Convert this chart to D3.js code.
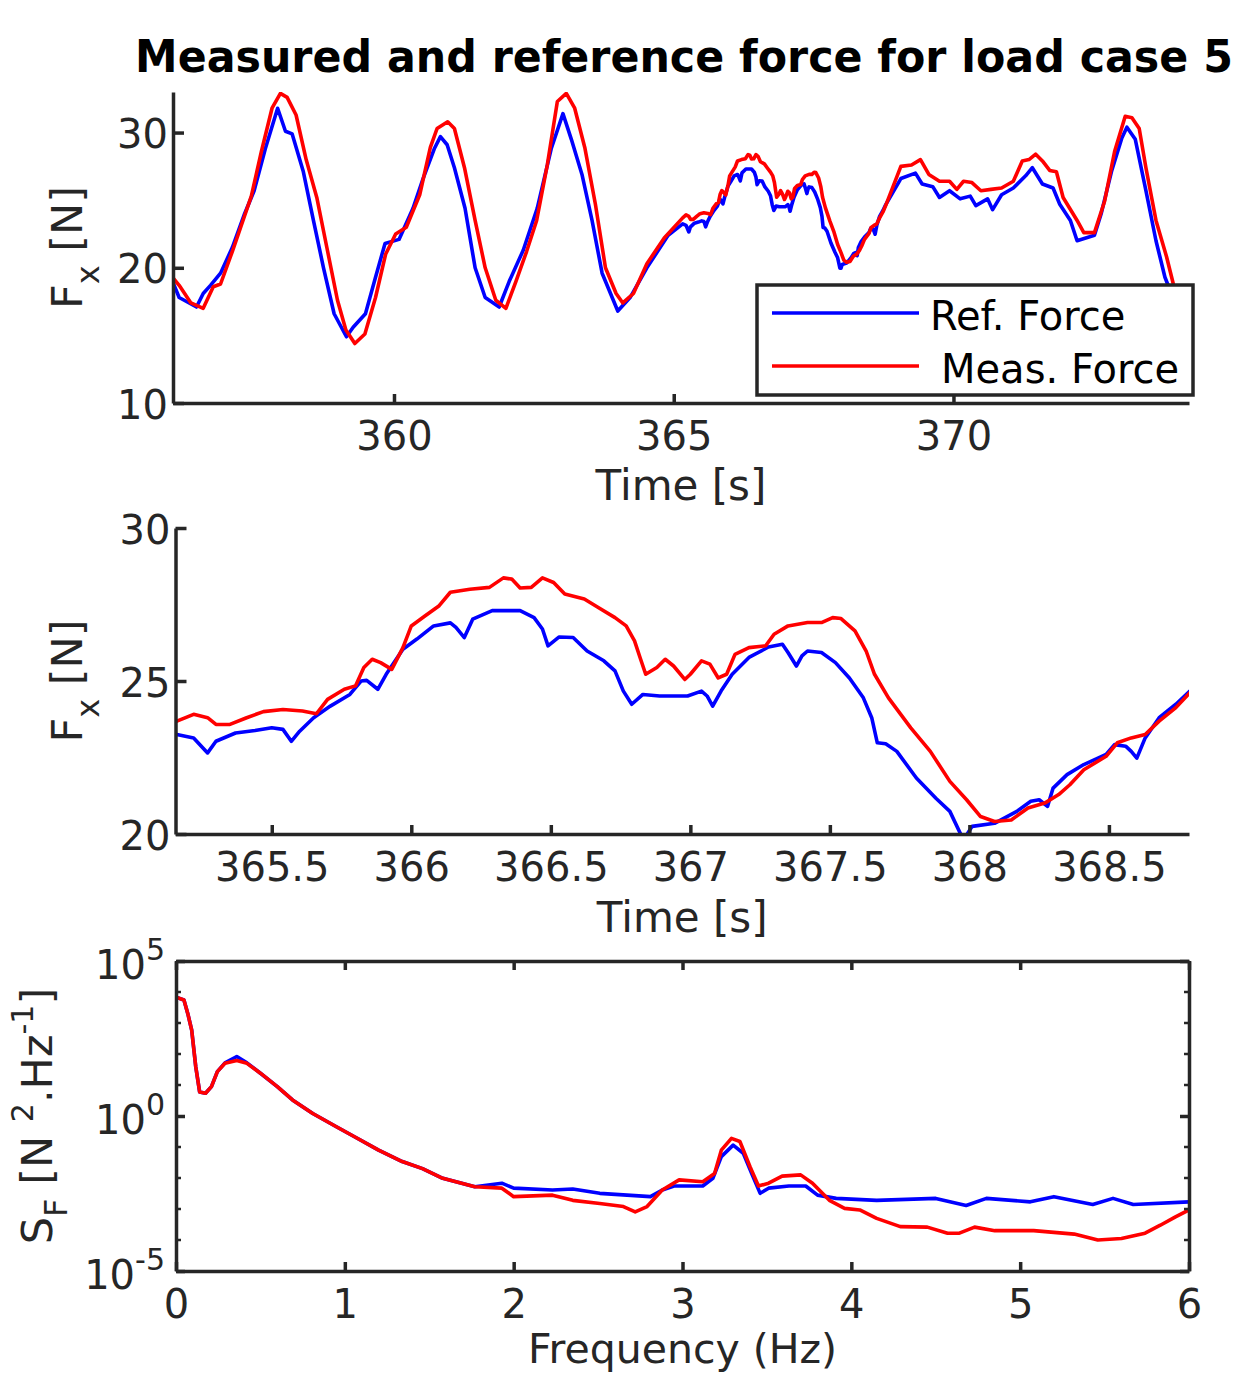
<!DOCTYPE html>
<html>
<head>
<meta charset="utf-8">
<script src="https://cdn.jsdelivr.net/npm/d3@7"></script>
<style>
  body { margin: 0; background: #fff; }
  svg { display: block; font-family: "DejaVu Sans", sans-serif; }
</style>
</head>
<body>
<svg id="chart" width="1242" height="1376"></svg>
<script>
// reference (blue) and measured (red) force, time in s, force in N
const refTime = [356.04, 356.16, 356.47, 356.59, 356.72, 356.90, 357.11, 357.33, 357.50, 357.70, 357.92, 358.06, 358.18, 358.38, 358.56, 358.74, 358.93, 359.15, 359.27, 359.49, 359.67, 359.84, 360.09, 360.34, 360.52, 360.72, 360.83, 360.95, 361.08, 361.27, 361.45, 361.63, 361.88, 362.06, 362.31, 362.56, 362.81, 363.02, 363.17, 363.36, 363.54, 363.72, 364.00, 364.22, 364.52, 364.90,
  365.16, 365.22, 365.27, 365.30, 365.37, 365.44, 365.50, 365.54, 365.57, 365.60, 365.65, 365.71, 365.78, 365.82, 365.84, 365.88, 365.91, 365.97, 366.02, 366.08, 366.14, 366.16, 366.19, 366.22, 366.29, 366.39, 366.44, 366.47, 366.49, 366.53, 366.58, 366.63, 366.69, 366.73, 366.76, 366.79, 366.83, 366.89, 366.99, 367.04, 367.06, 367.08, 367.11, 367.15, 367.21, 367.28, 367.33, 367.35, 367.38, 367.40, 367.42, 367.47, 367.52, 367.57, 367.62, 367.65, 367.67, 367.70, 367.74, 367.81, 367.88, 367.93, 367.97, 367.99, 368.01, 368.09, 368.17, 368.22, 368.25, 368.28, 368.30, 368.35, 368.41, 368.49, 368.52, 368.56, 368.58, 368.60, 368.63, 368.68, 368.74, 368.79,
  369.06, 369.32, 369.44, 369.63, 369.75, 369.93, 370.12, 370.30, 370.40, 370.61, 370.70, 370.86, 371.07, 371.29, 371.41, 371.59, 371.78, 371.90, 372.09, 372.21, 372.52, 372.64, 372.83, 373.01, 373.10, 373.25, 373.44, 373.62, 373.78, 374.00, 374.20]
const refForce = [19.0, 17.8, 17.1, 18.1, 18.7, 19.6, 21.5, 24.0, 25.7, 28.8, 31.8, 30.1, 29.9, 27.1, 23.5, 20.0, 16.6, 14.9, 15.6, 16.6, 19.3, 21.8, 22.1, 24.4, 26.6, 28.8, 29.7, 29.1, 27.4, 24.4, 20.0, 17.8, 17.1, 19.0, 21.3, 24.4, 28.8, 31.4, 29.5, 26.9, 23.5, 19.6, 16.8, 17.8, 20.0, 22.4,
  23.25, 23.14, 22.65, 23.03, 23.30, 23.38, 23.47, 23.42, 23.03, 23.36, 23.80, 24.18, 24.56, 25.00, 25.02, 24.73, 25.22, 26.04, 26.37, 26.80, 26.90, 26.75, 26.42, 27.02, 27.30, 27.30, 27.07, 26.70, 26.15, 26.44, 26.42, 25.98, 25.66, 25.33, 24.67, 24.24, 24.56, 24.51, 24.51, 24.67, 24.51, 24.18, 24.67, 25.22, 25.77, 26.11, 26.20, 25.93, 25.49, 25.82, 25.98, 25.93, 25.60, 25.10, 24.45, 23.80, 22.98, 22.95, 22.70, 21.83, 21.17, 20.74, 19.97, 19.97, 20.25, 20.35, 20.74, 21.07, 21.12, 20.90, 21.50, 21.94, 22.27, 22.60, 22.92, 22.87, 22.70, 22.48, 23.14, 23.80, 24.24, 24.67,
  26.6, 27.0, 26.2, 26.0, 25.2, 25.7, 25.1, 25.3, 24.6, 25.1, 24.3, 25.4, 25.9, 26.8, 27.4, 26.2, 25.9, 24.7, 23.5, 22.0, 22.4, 24.0, 27.2, 29.6, 30.4, 29.5, 25.7, 22.0, 19.3, 17.0, 16.0]

const measTime = [356.04, 356.16, 356.37, 356.59, 356.77, 356.90, 357.11, 357.26, 357.45, 357.63, 357.82, 357.97, 358.09, 358.25, 358.43, 358.62, 358.80, 358.99, 359.14, 359.30, 359.48, 359.67, 359.85, 360.03, 360.22, 360.46, 360.65, 360.77, 360.96, 361.08, 361.26, 361.45, 361.63, 361.82, 362.00, 362.18, 362.37, 362.55, 362.74, 362.92, 363.08, 363.23, 363.41, 363.60, 363.78, 363.97, 364.09, 364.28, 364.52, 364.83,
  365.16, 365.22, 365.27, 365.30, 365.35, 365.41, 365.47, 365.54, 365.61, 365.66, 365.70, 365.76, 365.80, 365.83, 365.86, 365.89, 365.93, 365.97, 366.00, 366.05, 366.10, 366.14, 366.21, 366.28, 366.33, 366.36, 366.39, 366.43, 366.47, 366.51, 366.55, 366.62, 366.67, 366.73, 366.77, 366.80, 366.82, 366.84, 366.88, 366.91, 366.94, 366.98, 367.00, 367.04, 367.07, 367.10, 367.13, 367.16, 367.21, 367.27, 367.30, 367.35, 367.42, 367.47, 367.51, 367.54, 367.59, 367.63, 367.66, 367.71, 367.79, 367.86, 367.93, 367.99, 368.04, 368.09, 368.15, 368.21, 368.27, 368.32, 368.36, 368.41, 368.49, 368.53, 368.58, 368.63, 368.68, 368.74, 368.79,
  369.06, 369.25, 369.41, 369.56, 369.75, 369.93, 370.06, 370.18, 370.33, 370.49, 370.67, 370.86, 371.07, 371.23, 371.35, 371.47, 371.59, 371.72, 371.84, 371.96, 372.21, 372.33, 372.52, 372.70, 372.88, 373.07, 373.19, 373.32, 373.44, 373.62, 373.81, 373.93, 374.20]
const measForce = [19.3, 18.7, 17.4, 17.0, 18.6, 18.8, 21.2, 23.0, 25.3, 28.6, 31.8, 32.9, 32.6, 31.3, 28.0, 25.2, 21.5, 17.6, 15.4, 14.4, 15.1, 17.8, 21.0, 22.5, 23.0, 25.4, 28.9, 30.3, 30.8, 30.3, 27.4, 23.5, 20.0, 17.6, 17.0, 19.0, 21.2, 23.5, 27.6, 32.3, 32.9, 31.8, 28.9, 24.7, 20.0, 18.1, 17.4, 18.1, 20.3, 22.2,
  23.69, 23.91, 23.80, 23.58, 23.58, 23.80, 24.00, 24.07, 24.02, 23.93, 24.40, 24.73, 24.84, 25.44, 25.71, 25.60, 25.38, 26.09, 26.80, 27.13, 27.46, 27.90, 28.00, 28.06, 28.37, 28.33, 28.04, 28.06, 28.37, 28.22, 27.84, 27.68, 27.40, 27.07, 26.80, 26.31, 25.76, 25.22, 25.44, 25.71, 25.49, 25.05, 25.22, 25.66, 25.55, 25.10, 25.22, 25.87, 26.09, 26.15, 26.53, 26.80, 26.91, 26.91, 27.07, 27.04, 26.64, 25.98, 25.22, 24.45, 23.47, 22.70, 21.72, 21.12, 20.57, 20.41, 20.46, 20.85, 21.01, 21.29, 21.61, 22.10, 22.54, 22.98, 23.14, 23.25, 23.69, 24.13, 24.62,
  27.5, 27.6, 28.0, 26.9, 26.4, 26.4, 25.8, 26.4, 26.3, 25.7, 25.8, 25.9, 26.4, 27.9, 28.0, 28.4, 27.9, 27.2, 27.1, 25.2, 23.5, 22.6, 22.6, 24.9, 28.6, 31.2, 31.1, 30.3, 27.4, 23.5, 20.8, 18.8, 16.5]

// power spectral density, frequency in Hz, S_F in N^2/Hz
const refFreq = [0, 0.047, 0.07, 0.093, 0.117, 0.14, 0.175, 0.21, 0.245, 0.29, 0.36, 0.42, 0.50, 0.60, 0.69, 0.81, 0.95, 1.06, 1.20, 1.34, 1.46, 1.58, 1.77, 1.93, 2.00, 2.23, 2.35, 2.51, 2.81, 2.88, 2.95, 3.12, 3.18, 3.23, 3.30, 3.36, 3.41, 3.46, 3.51, 3.63, 3.73, 3.80, 3.91, 4.15, 4.50, 4.68, 4.80, 5.06, 5.20, 5.43, 5.55, 5.67, 6.00]
const refPsd = [6800, 5500, 2000, 590, 39, 6.0, 5.4, 8.9, 27, 52, 83, 52, 24, 8.9, 3.3, 1.2, 0.45, 0.21, 0.079, 0.034, 0.020, 0.0098, 0.0052, 0.0068, 0.0047, 0.0041, 0.0044, 0.0032, 0.0025, 0.0041, 0.0055, 0.0055, 0.0098, 0.049, 0.115, 0.063, 0.014, 0.0032, 0.0047, 0.0055, 0.0055, 0.0028, 0.0022, 0.0019, 0.0022, 0.0013, 0.0022, 0.0017, 0.0025, 0.0014, 0.0022, 0.0014, 0.0017]
const measFreq = [0, 0.047, 0.07, 0.093, 0.117, 0.14, 0.175, 0.21, 0.245, 0.29, 0.36, 0.42, 0.50, 0.60, 0.69, 0.81, 0.95, 1.06, 1.20, 1.34, 1.46, 1.58, 1.77, 1.93, 2.00, 2.23, 2.35, 2.51, 2.65, 2.72, 2.79, 2.88, 2.98, 3.12, 3.19, 3.23, 3.29, 3.34, 3.40, 3.45, 3.51, 3.59, 3.70, 3.77, 3.87, 3.96, 4.05, 4.15, 4.29, 4.45, 4.57, 4.64, 4.73, 4.85, 5.08, 5.32, 5.46, 5.60, 5.74, 5.83, 5.92, 6.00]
const measPsd = [6800, 5500, 2000, 590, 39, 6.0, 5.4, 8.9, 27, 50, 62, 50, 24, 8.9, 3.3, 1.2, 0.45, 0.21, 0.079, 0.034, 0.020, 0.0098, 0.0052, 0.0047, 0.0025, 0.0028, 0.0019, 0.0015, 0.0012, 0.00081, 0.0012, 0.0041, 0.0087, 0.0076, 0.014, 0.079, 0.19, 0.15, 0.023, 0.0055, 0.0068, 0.0115, 0.0126, 0.0068, 0.0019, 0.00105, 0.00093, 0.0005, 0.00027, 0.00026, 0.000166, 0.000166, 0.00026, 0.0002, 0.0002, 0.000155, 0.0001, 0.000112, 0.000166, 0.0003, 0.00056, 0.00093]

// ticks
const timeTicks1 = [360, 365, 370]
const forceTicks1 = [10, 20, 30]
const timeTicks2 = [365.5, 366, 366.5, 367, 367.5, 368, 368.5]
const forceTicks2 = [20, 25, 30]
const freqTicks = [0, 1, 2, 3, 4, 5, 6]
const psdTicks = [1e-5, 1, 1e5]
const psdMinorTicks = [1e-4, 1e-3, 1e-2, 1e-1, 1e1, 1e2, 1e3, 1e4]

const seriesNames = ['Ref. Force', 'Meas. Force']
const seriesColors = ['#0000ff', '#ff0000']

const svg = d3.select('#chart')
const axisColor = '#262626'
const axisWidth = 3.5
const lineWidth = 3.6

const styleAxis = function (g) {
  g.attr('font-family', null).attr('font-size', 40)
  g.select('.domain').attr('stroke', axisColor).attr('stroke-width', axisWidth)
  g.selectAll('.tick line').attr('stroke', axisColor).attr('stroke-width', axisWidth)
  g.selectAll('.tick text').attr('fill', axisColor)
}

const addClip = function (id, box) {
  svg.append('clipPath').attr('id', id)
    .append('rect')
    .attr('x', box.left).attr('y', box.top)
    .attr('width', box.right - box.left).attr('height', box.bottom - box.top)
}

const drawSeries = function (x, y, clipId, xs, ys, color) {
  const line = d3.line().x(d => x(d[0])).y(d => y(d[1]))
  svg.append('path')
    .datum(d3.zip(xs, ys))
    .attr('clip-path', `url(#${clipId})`)
    .attr('fill', 'none')
    .attr('stroke', color)
    .attr('stroke-width', lineWidth)
    .attr('stroke-linejoin', 'round')
    .attr('d', line)
}

const xLabel = function (box, baseline, text) {
  svg.append('text')
    .attr('x', (box.left + box.right) / 2).attr('y', baseline)
    .attr('text-anchor', 'middle').attr('font-size', 42).attr('fill', axisColor)
    .text(text)
}

// time panel, box off: only left and bottom axes
const drawTimePanel = function (box, xDomain, yDomain, xTicks, yTicks, clipId) {
  const x = d3.scaleLinear(xDomain, [box.left, box.right])
  const y = d3.scaleLinear(yDomain, [box.bottom, box.top])
  addClip(clipId, box)
  drawSeries(x, y, clipId, refTime, refForce, seriesColors[0])
  drawSeries(x, y, clipId, measTime, measForce, seriesColors[1])

  svg.append('g').attr('transform', `translate(0,${box.bottom})`)
    .call(d3.axisBottom(x).tickValues(xTicks).tickFormat(d => d).tickSize(-9).tickSizeOuter(0))
    .call(styleAxis)
    .call(g => g.selectAll('.tick text').attr('y', 19).attr('dy', '0.71em'))
  svg.append('g').attr('transform', `translate(${box.left},0)`)
    .call(d3.axisLeft(y).tickValues(yTicks).tickFormat(d => d).tickSize(-11).tickSizeOuter(0).tickPadding(5))
    .call(styleAxis)
    .call(g => g.selectAll('.tick text').attr('dy', '0.38em'))
  return { x, y }
}

const forceLabel = function (cx, cy) {
  const t = svg.append('text')
    .attr('transform', `translate(${cx},${cy}) rotate(-90)`)
    .attr('text-anchor', 'middle').attr('font-size', 43).attr('fill', axisColor)
    .style('white-space', 'pre')
  t.append('tspan').text('F')
  t.append('tspan').attr('font-size', 32).attr('dy', 17).text('x')
  t.append('tspan').attr('dy', -17).text(' [N]')
}

// title, squeezed horizontally to the reference width
const titleG = svg.append('g')
const title = titleG.append('text')
  .attr('x', 0).attr('y', 0)
  .attr('text-anchor', 'middle')
  .attr('font-size', 44).attr('font-weight', 'bold').attr('fill', '#000')
  .text('Measured and reference force for load case 5')
const titleScale = Math.min(1, 1098 / title.node().getComputedTextLength())
titleG.attr('transform', `translate(684,72) scale(${titleScale},1)`)

// panel 1
const box1 = { left: 173, right: 1189, top: 92, bottom: 403 }
drawTimePanel(box1, [356.05, 374.21], [10, 33], timeTicks1, forceTicks1, 'clip1')
xLabel(box1, 500, 'Time [s]')
forceLabel(82, 247.5)

// legend
const legend = svg.append('g')
legend.append('rect')
  .attr('x', 757).attr('y', 285).attr('width', 436).attr('height', 110)
  .attr('fill', '#fff').attr('stroke', axisColor).attr('stroke-width', axisWidth)
seriesNames.forEach((name, i) => {
  const ly = 313 + i * 53
  legend.append('line')
    .attr('x1', 772).attr('x2', 919).attr('y1', ly).attr('y2', ly)
    .attr('stroke', seriesColors[i]).attr('stroke-width', lineWidth)
  legend.append('text')
    .attr('x', 930 + i * 11).attr('y', ly + 17)
    .attr('font-size', 40).attr('fill', '#000')
    .text(name)
})

// panel 2 (zoom)
const box2 = { left: 175.5, right: 1189, top: 528, bottom: 834 }
drawTimePanel(box2, [365.155, 368.787], [20, 30], timeTicks2, forceTicks2, 'clip2')
xLabel(box2, 932, 'Time [s]')
forceLabel(82, 681)

// panel 3 (PSD, log y, box on)
const box3 = { left: 176, right: 1189, top: 961, bottom: 1271 }
const x3 = d3.scaleLinear([0, 6], [box3.left, box3.right])
const y3 = d3.scaleLog([1e-5, 1e5], [box3.bottom, box3.top])
addClip('clip3', box3)
drawSeries(x3, y3, 'clip3', refFreq, refPsd, seriesColors[0])
drawSeries(x3, y3, 'clip3', measFreq, measPsd, seriesColors[1])

svg.append('g').attr('transform', `translate(0,${box3.bottom})`)
  .call(d3.axisBottom(x3).tickValues(freqTicks).tickFormat(d => d).tickSize(-9).tickSizeOuter(0))
  .call(styleAxis)
  .call(g => g.selectAll('.tick text').attr('y', 19).attr('dy', '0.71em'))
svg.append('g').attr('transform', `translate(0,${box3.top})`)
  .call(d3.axisTop(x3).tickValues(freqTicks).tickFormat('').tickSize(-9).tickSizeOuter(0))
  .call(styleAxis)
svg.append('g').attr('transform', `translate(${box3.left},0)`)
  .call(d3.axisLeft(y3).tickValues(psdTicks).tickFormat('').tickSize(-9).tickSizeOuter(0))
  .call(styleAxis)
svg.append('g').attr('transform', `translate(${box3.right},0)`)
  .call(d3.axisRight(y3).tickValues(psdTicks).tickFormat('').tickSize(-9).tickSizeOuter(0))
  .call(styleAxis)

// minor decade ticks on both sides
psdMinorTicks.forEach(v => {
  [[box3.left, 5], [box3.right, -5]].forEach(([x0, len]) => {
    svg.append('line')
      .attr('x1', x0).attr('x2', x0 + len)
      .attr('y1', y3(v)).attr('y2', y3(v))
      .attr('stroke', axisColor).attr('stroke-width', 2.5)
  })
})

// 10^n labels
psdTicks.forEach(v => {
  const t = svg.append('text')
    .attr('x', box3.left - 11).attr('y', y3(v) + 18)
    .attr('text-anchor', 'end').attr('font-size', 40).attr('fill', axisColor)
  t.append('tspan').text('10')
  t.append('tspan').attr('font-size', 30).attr('dy', -19).text(Math.round(Math.log10(v)))
})

svg.append('text')
  .attr('x', (box3.left + box3.right) / 2).attr('y', 1363)
  .attr('text-anchor', 'middle').attr('font-size', 41).attr('fill', axisColor)
  .text('Frequency (Hz)')

const psdLabel = svg.append('text')
  .attr('transform', `translate(52,1116) rotate(-90)`)
  .attr('text-anchor', 'middle').attr('font-size', 43).attr('fill', axisColor)
  .style('white-space', 'pre')
psdLabel.append('tspan').text('S')
psdLabel.append('tspan').attr('font-size', 32).attr('dy', 15).text('F')
psdLabel.append('tspan').attr('dy', -15).text(' [N ')
psdLabel.append('tspan').attr('font-size', 30).attr('dy', -19).text('2')
psdLabel.append('tspan').attr('dy', 19).text('.Hz')
psdLabel.append('tspan').attr('font-size', 30).attr('dy', -19).text('-1')
psdLabel.append('tspan').attr('dy', 19).text(']')
</script>
</body>
</html>
